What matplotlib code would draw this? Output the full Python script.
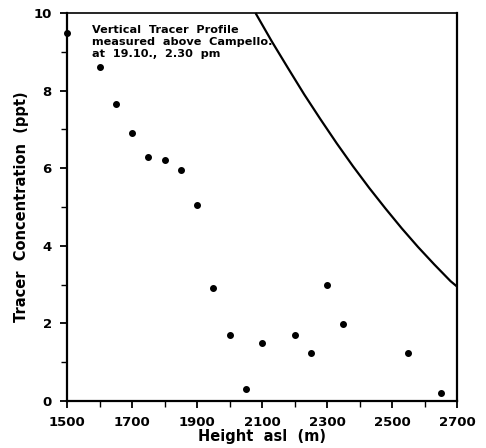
import matplotlib
matplotlib.use("Agg")
import matplotlib.pyplot as plt
from matplotlib.ticker import MultipleLocator

# Measured tracer concentrations by height above sea level
height_m = [1500, 1600, 1650, 1700, 1750, 1800, 1850, 1900, 1950, 2000,
            2050, 2100, 2200, 2250, 2300, 2350, 2550, 2650]
conc_ppt = [9.48, 8.6, 7.65, 6.9, 6.3, 6.2, 5.95, 5.05, 2.9, 1.7,
            0.3, 1.5, 1.7, 1.25, 2.98, 1.98, 1.25, 0.2]

# Reference curve
curve_height = [2080, 2130, 2180, 2230, 2280, 2330, 2380, 2430, 2480,
                2530, 2580, 2630, 2680, 2700]
curve_conc = [10.0, 9.27, 8.58, 7.90, 7.26, 6.64, 6.05, 5.49, 4.96,
              4.45, 3.97, 3.52, 3.09, 2.95]

x_ticks = [1500, 1700, 1900, 2100, 2300, 2500, 2700]
y_ticks = [0, 2, 4, 6, 8, 10]

plt.rcParams['font.family'] = ['DejaVu Sans']
plt.rcParams['font.weight'] = 'bold'

fig = plt.figure(figsize=(4.86, 4.48), dpi=100)
ax = fig.add_axes([67 / 486, 47 / 448, 390 / 486, 388 / 448])

ax.plot(curve_height, curve_conc, color='black', lw=1.6, solid_capstyle='butt',
        solid_joinstyle='round', clip_on=False, zorder=3)
ax.plot(height_m, conc_ppt, 'o', color='black', ms=4, clip_on=False, zorder=4)

ax.set_xlim(1500, 2700)
ax.set_ylim(0, 10)
ax.set_xticks(x_ticks)
ax.set_yticks(y_ticks)
ax.xaxis.set_minor_locator(MultipleLocator(100))
ax.yaxis.set_minor_locator(MultipleLocator(1))

for side in ['left', 'bottom', 'right', 'top']:
    ax.spines[side].set_linewidth(1.6)
ax.spines['top'].set_linewidth(1.2)

ax.tick_params(which='major', direction='out', length=5, width=1.3,
               labelsize=9.5, pad=6)
ax.tick_params(which='minor', direction='out', length=4, width=1.0)
for lbl in ax.get_xticklabels() + ax.get_yticklabels():
    lbl.set_fontweight('bold')

ax.set_xlabel('Height  asl  (m)', fontsize=10.5, fontweight='bold', labelpad=0)
ax.set_ylabel('Tracer  Concentration  (ppt)', fontsize=10.5, fontweight='bold',
              labelpad=3)

ax.text(0.064, 0.968,
        'Vertical  Tracer  Profile\nmeasured  above  Campello.\nat  19.10.,  2.30  pm',
        transform=ax.transAxes, fontsize=8.1, fontweight='bold',
        va='top', ha='left', linespacing=1.2)

fig.savefig('out.png', dpi=100)
